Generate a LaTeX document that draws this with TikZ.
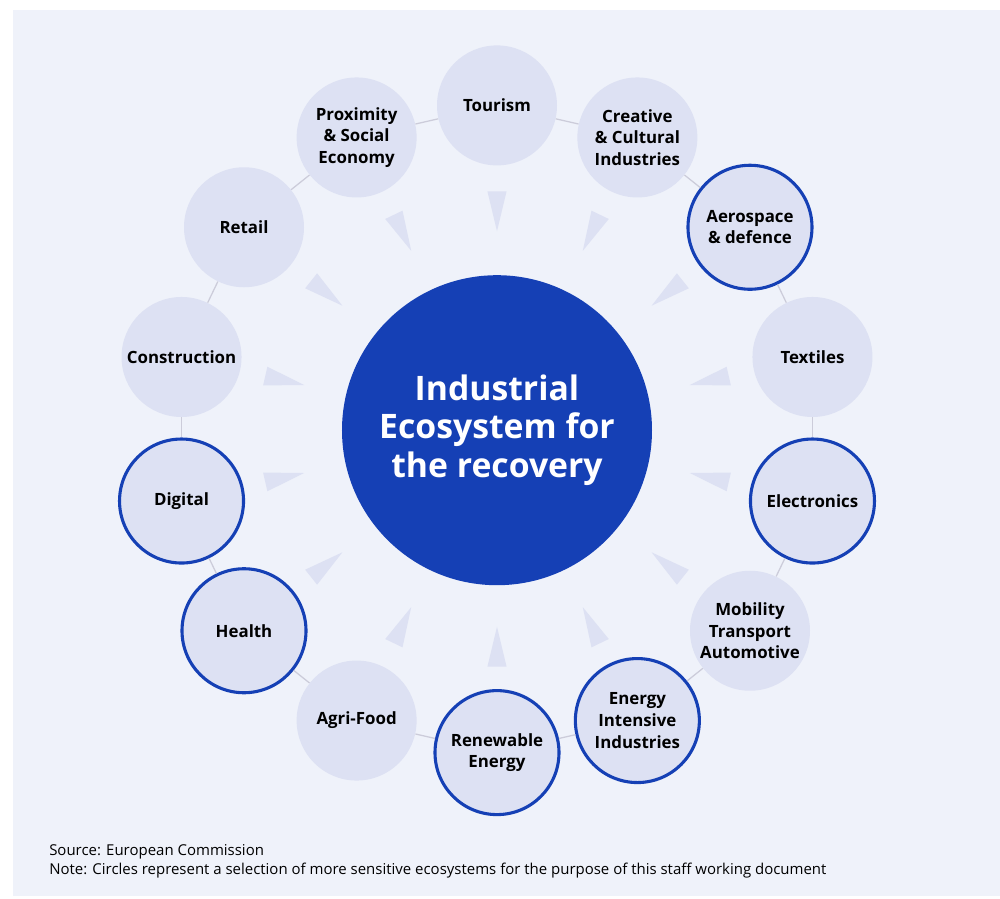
\documentclass[tikz,border=0pt]{standalone}
\usepackage{fontspec}
\setmainfont{Open Sans}
\usetikzlibrary{positioning, shapes.geometric}
\definecolor{paleback}{RGB}{239,242,250}
\definecolor{ringfill}{RGB}{221,225,243}
\definecolor{deepblue}{RGB}{21,64,181}
\definecolor{linkgray}{RGB}{204,204,218}

\begin{document}
\begin{tikzpicture}[
        eco/.style={circle, fill=ringfill, minimum size=3cm, inner sep=0pt, text centered, align=center, font=\bfseries\fontsize{12}{15.3}\selectfont},
        sensitive/.style={eco, draw=deepblue, line width=2.2pt, minimum size=3.1cm},
        hub/.style={circle, fill=deepblue, minimum size=7.75cm, text=white, align=center, font=\bfseries\fontsize{24}{27.7}\selectfont},
        pointer/.style={isosceles triangle, isosceles triangle stretches, fill=ringfill, minimum height=1cm, minimum width=0.48cm, inner sep=0pt, anchor=apex},
        link/.style={draw=linkgray, line width=0.9pt},
        note/.style={anchor=west, inner sep=0pt, font=\fontsize{10.65}{11}\selectfont}
    ]
    \useasboundingbox (-12.425,-11.725) rectangle (12.575,10.725);
    \fill[paleback] (-12.1,-11.675) rectangle (12.575,10.475);

    % centre
    \node[hub] (hub) at (0,-0.03) {Industrial\\Ecosystem for\\the recovery};

    % pointers towards the centre
    \node[pointer, rotate=270] (t1) at (90:4.925) {};
    \node[pointer, rotate=244.29] (t2) at (64.29:4.925) {};
    \node[pointer, rotate=218.57] (t3) at (38.57:4.925) {};
    \node[pointer, rotate=192.86] (t4) at (12.86:4.925) {};
    \node[pointer, rotate=167.14] (t5) at (-12.86:4.925) {};
    \node[pointer, rotate=141.43] (t6) at (-38.57:4.925) {};
    \node[pointer, rotate=115.71] (t7) at (-64.29:4.925) {};
    \node[pointer, rotate=90] (t8) at (-90:4.925) {};
    \node[pointer, rotate=64.29] (t9) at (-115.71:4.925) {};
    \node[pointer, rotate=38.57] (t10) at (-141.43:4.925) {};
    \node[pointer, rotate=12.86] (t11) at (-167.14:4.925) {};
    \node[pointer, rotate=-12.86] (t12) at (167.14:4.925) {};
    \node[pointer, rotate=-38.57] (t13) at (141.43:4.925) {};
    \node[pointer, rotate=-64.29] (t14) at (115.71:4.925) {};

    % ring of ecosystems
    \node[eco] (tourism) at (90:8.09) {Tourism};
    \node[eco] (creative) at (64.29:8.09) {Creative\\\& Cultural\\Industries};
    \node[sensitive] (aero) at (38.57:8.09) {Aerospace\\\& defence};
    \node[eco] (textiles) at (12.86:8.09) {Textiles};
    \node[sensitive] (electro) at (-12.86:8.09) {Electronics};
    \node[eco] (mobility) at (-38.57:8.09) {Mobility\\Transport\\Automotive};
    \node[sensitive] (energy) at (-64.29:8.09) {Energy\\Intensive\\Industries};
    \node[sensitive] (renew) at (-90:8.09) {Renewable\\Energy};
    \node[eco] (agri) at (-115.71:8.09) {Agri-Food};
    \node[sensitive] (health) at (-141.43:8.09) {Health};
    \node[sensitive] (digital) at (-167.14:8.09) {Digital};
    \node[eco] (constr) at (167.14:8.09) {Construction};
    \node[eco] (retail) at (141.43:8.09) {Retail};
    \node[eco] (proxim) at (115.71:8.09) {Proximity\\\& Social\\Economy};

    % links
    \draw[link] (tourism) -- (creative);
    \draw[link] (creative) -- (aero);
    \draw[link] (aero) -- (textiles);
    \draw[link] (textiles) -- (electro);
    \draw[link] (electro) -- (mobility);
    \draw[link] (mobility) -- (energy);
    \draw[link] (energy) -- (renew);
    \draw[link] (renew) -- (agri);
    \draw[link] (agri) -- (health);
    \draw[link] (health) -- (digital);
    \draw[link] (digital) -- (constr);
    \draw[link] (constr) -- (retail);
    \draw[link] (retail) -- (proxim);
    \draw[link] (proxim) -- (tourism);

    % footnote
    \node[note] (source) at (-11.2,-10.575) {Source: European Commission};
    \node[note] (remark) at (-11.2,-11.05) {Note: Circles represent a selection of more sensitive ecosystems for the purpose of this staff working document};

\end{tikzpicture}
\end{document}
